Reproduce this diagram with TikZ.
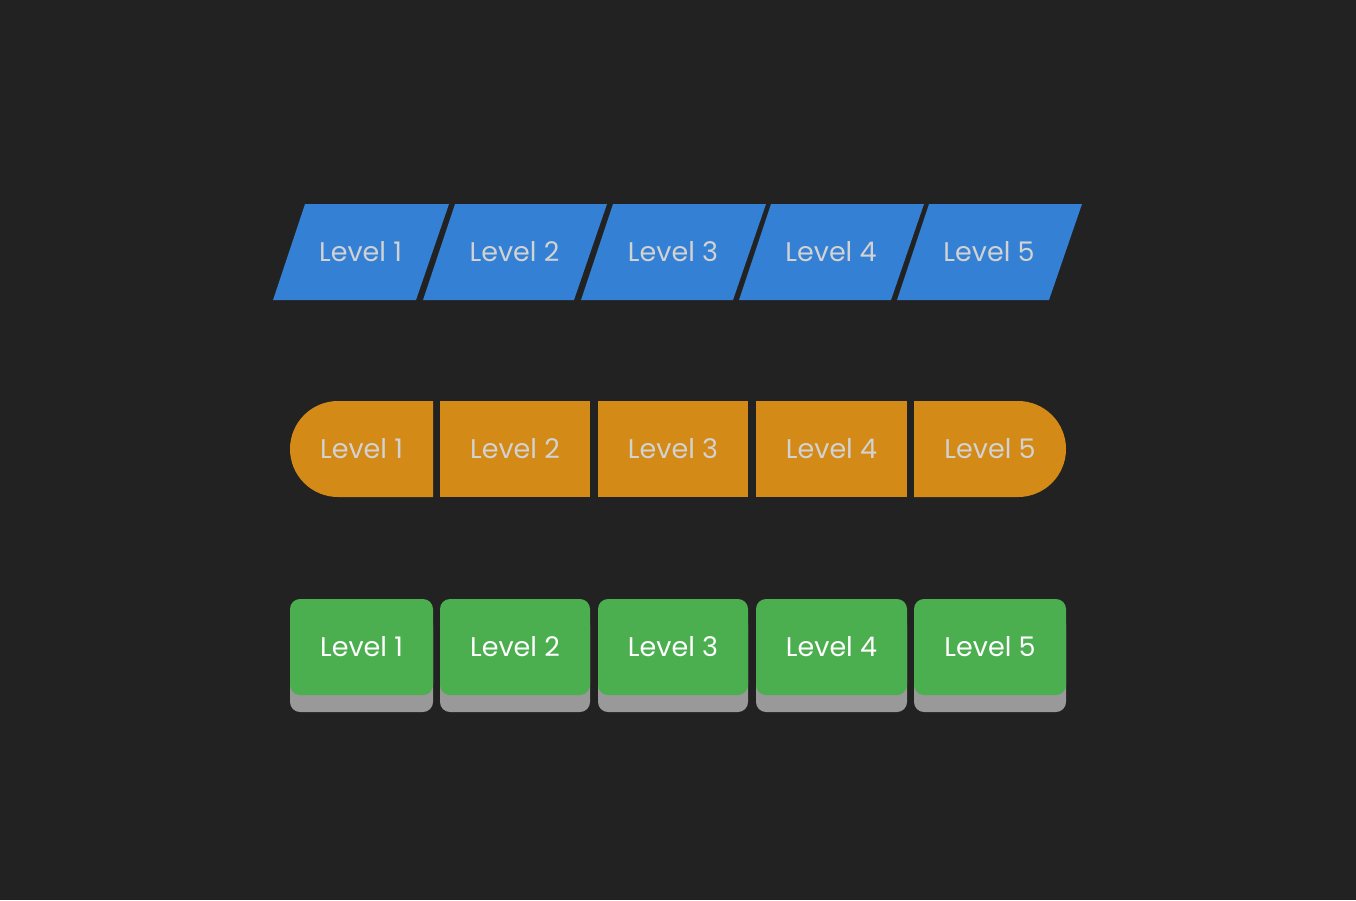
\documentclass[tikz,border=0pt]{standalone}
\usepackage{fontspec}
\setmainfont{Poppins}
\definecolor{bgdark}{HTML}{222222}
\definecolor{lvlblue}{HTML}{3380D4}
\definecolor{lvlorange}{HTML}{D48A17}
\definecolor{lvlgreen}{HTML}{4BAF4F}
\definecolor{lvlshadow}{HTML}{999999}
\definecolor{lvltext}{HTML}{D2D2D2}
\tikzset{
  lvllabel/.style={font=\fontsize{27}{32}\selectfont, text=lvltext},
}
\begin{document}
\begin{tikzpicture}[x=1pt, y=-1pt]
	   \fill [bgdark] (0, 0) rectangle (1356, 900);
	   % slanted row
	   \foreach \i/\l/\r in {1/273/416, 2/423/574, 3/581/733, 4/739/891, 5/897/1049} {
	      \fill [lvlblue] (\l, 300) -- (\l+32, 204) -- (\r+33, 204) -- (\r, 300) -- cycle;
	      \node [lvllabel] (blue\i) at ({(\l+\r)/2+16}, 252) {Level \i};
	   }
	   % pill row
	   \fill [lvlorange] (433, 401) -- (338, 401) arc (270:90:48) -- (433, 497) -- cycle;
	   \foreach \i/\l/\r in {2/440/590, 3/598/748, 4/756/907} {
	      \fill [lvlorange] (\l, 401) rectangle (\r, 497);
	   }
	   \fill [lvlorange] (914, 401) -- (1018, 401) arc (270:450:48) -- (914, 497) -- cycle;
	   \foreach \i/\l/\r in {1/290/433, 2/440/590, 3/598/748, 4/756/907, 5/914/1066} {
	      \node [lvllabel] (orange\i) at ({(\l+\r)/2}, 449) {Level \i};
	   }
	   % button row
	   \foreach \i/\l/\r in {1/290/433, 2/440/590, 3/598/748, 4/756/907, 5/914/1066} {
	      \fill [lvlshadow, rounded corners=10pt] (\l, 615) rectangle (\r, 712);
	      \fill [lvlgreen, rounded corners=10pt] (\l, 599) rectangle (\r, 695);
	      \node [lvllabel, text=white] (green\i) at ({(\l+\r)/2}, 647) {Level \i};
	   }
\end{tikzpicture}
\end{document}
